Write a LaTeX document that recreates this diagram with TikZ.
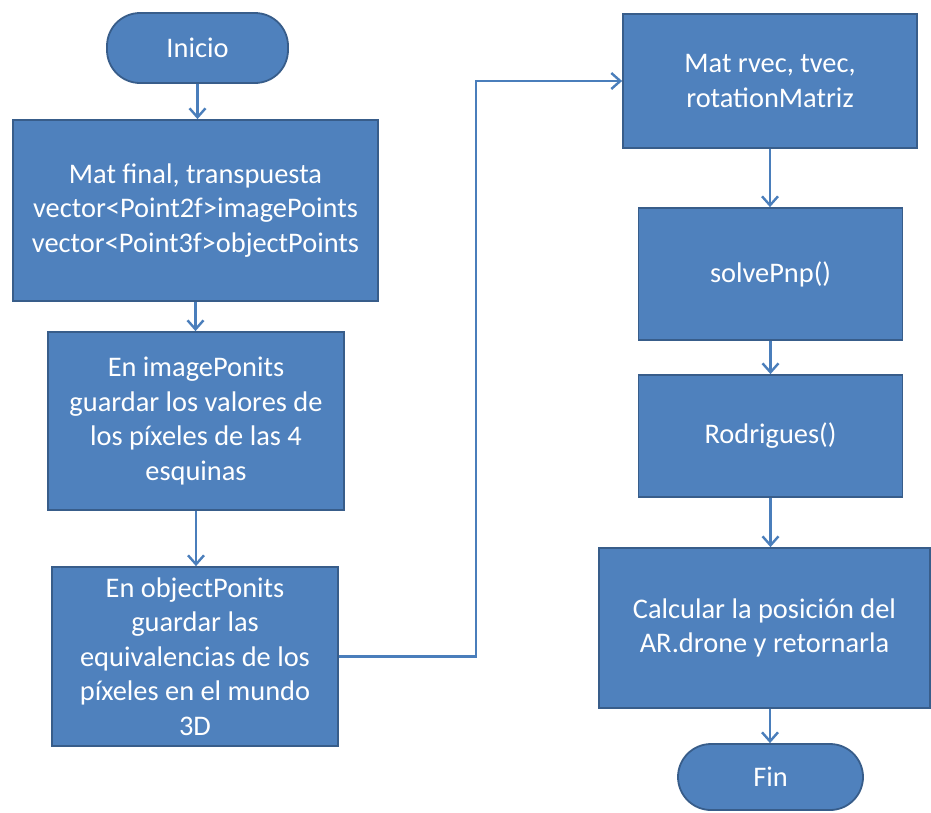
\documentclass[tikz,border=0pt]{standalone}
\usepackage{fontspec}
\setmainfont{Carlito}
\usetikzlibrary{arrows.meta}
\definecolor{boxfill}{HTML}{4F81BD}
\definecolor{boxline}{HTML}{385D8A}
\definecolor{linkcol}{HTML}{4A7EBB}
\begin{document}
\begin{tikzpicture}[x=1pt,y=-1pt,
  procbox/.style={draw=boxline, line width=1.8pt, fill=boxfill, text=white,
    align=center, inner sep=0pt,
    font=\fontsize{28.4}{34.5}\selectfont},
  termbox/.style={procbox, rounded corners=33pt},
  arr/.style={draw=linkcol, line width=2.4pt,
    -{Straight Barb[length=9pt,width=16pt,line width=2.4pt]}}]
\useasboundingbox (0,0) rectangle (931,812);

% left column
\node[termbox, minimum width=181pt, minimum height=70pt] (ini) at (197.5,48) {Inicio};
\node[procbox, minimum width=365pt, minimum height=181pt] (b1) at (195.5,210.5)
  {Mat final, transpuesta\\vector<Point2f>imagePoints\\vector<Point3f>objectPoints};
\node[procbox, minimum width=296pt, minimum height=178pt] (b2) at (196,421)
  {En imagePonits\\guardar los valores de\\los píxeles de las 4\\esquinas};
\node[procbox, minimum width=286pt, minimum height=179pt] (b3) at (195,656.5)
  {En objectPonits\\guardar las\\equivalencias de los\\píxeles en el mundo\\3D};

% right column
\node[procbox, minimum width=294pt, minimum height=134pt] (b4) at (770,81)
  {Mat rvec, tvec,\\rotationMatriz};
\node[procbox, minimum width=264pt, minimum height=132pt] (b5) at (770.5,274) {solvePnp()};
\node[procbox, minimum width=264pt, minimum height=122pt] (b6) at (770.5,436) {Rodrigues()};
\node[procbox, minimum width=331pt, minimum height=160pt] (b7) at (764.5,628)
  {Calcular la posición del\\AR.drone y retornarla};
\node[termbox, minimum width=185pt, minimum height=66pt] (fin) at (770.5,777) {Fin};

\coordinate (bend) at (476,0);

% connectors
\draw[arr] (ini.south) -- (ini.south |- b1.north);
\draw[arr] (b1.south) -- (b1.south |- b2.north);
\draw[arr] (b2.south) -- (b2.south |- b3.north);
\draw[arr] (b3.east) -| (bend |- b4.west) -- (b4.west);
\draw[arr] (b4.south) -- (b4.south |- b5.north);
\draw[arr] (b5.south) -- (b5.south |- b6.north);
\draw[arr] (b6.south) -- (b6.south |- b7.north);
\draw[arr] (b4.south |- b7.south) -- (b4.south |- fin.north);
\end{tikzpicture}
\end{document}
